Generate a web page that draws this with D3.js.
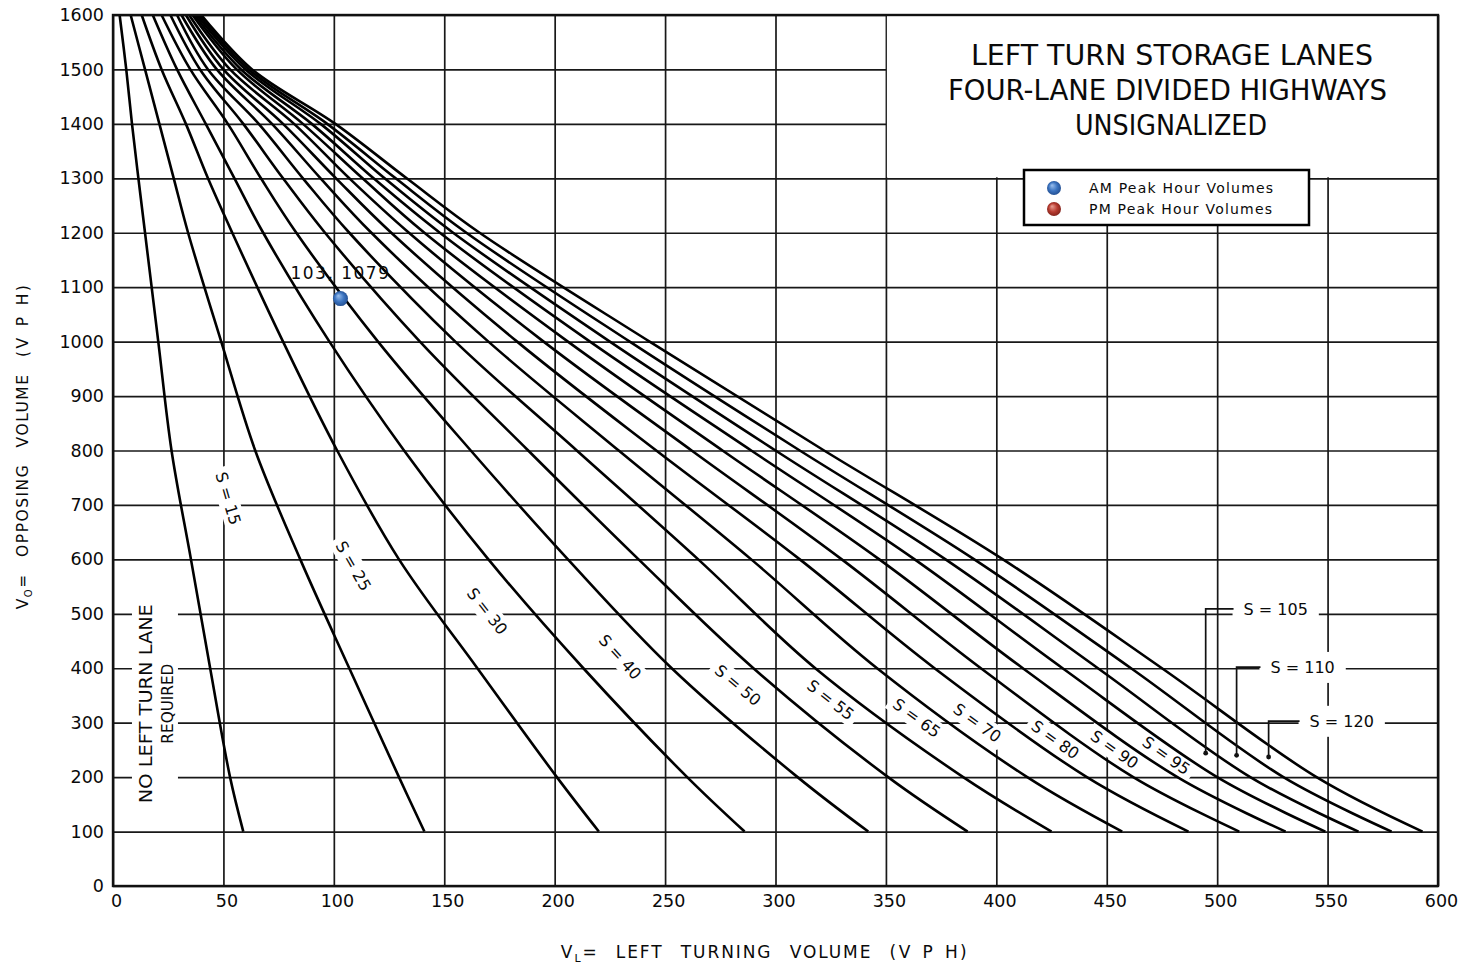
<!DOCTYPE html>
<html>
<head>
<meta charset="utf-8">
<title>Left turn storage lanes</title>
<script src="https://cdn.jsdelivr.net/npm/d3@7/dist/d3.min.js"></script>
<style>
  body { margin: 0; background: #fff; }
  svg text { font-family: "DejaVu Sans", sans-serif; fill: #0a0a0a; }
</style>
</head>
<body>
<svg id="chart" width="1465" height="969"></svg>
<script>
var levels = [1600, 1500, 1400, 1300, 1200, 1000, 800, 600, 400, 200, 100];

// left turning volume of each curve at those levels, left to right
var curve1  = [3, 6, 8.6, 11.5, 14.5, 20.5, 26.5, 35.3, 44, 53, 59];
var curve2  = [8, 14.5, 21, 27.5, 34, 49, 64.4, 84.8, 107, 129.5, 141];
var curve3  = [13, 22, 33, 43, 54, 77, 101.5, 129.5, 165, 201, 220];
var curve4  = [18, 29, 42, 55, 68, 98, 131.8, 170, 213, 260, 286];
var curve5  = [22, 35, 52, 67, 83, 120, 162, 206, 253, 310, 342];
var curve6  = [26, 39.4, 59, 77, 96, 139, 188, 238, 290, 351, 387];
var curve7  = [29, 43, 66, 86, 107, 155, 210, 265, 318, 385, 425];
var curve8  = [31, 47, 72, 94, 117, 170, 229, 289, 346, 414, 457];
var curve9  = [33, 50, 77, 101, 126, 183, 246, 311, 372, 441, 487];
var curve10 = [34.5, 53, 82, 107, 134, 195, 262, 330, 393, 462, 510];
var curve11 = [36, 56, 86, 113, 141, 206, 276, 347, 412, 482, 531];
var curve12 = [37, 58, 90, 118, 148, 216, 289, 363, 430, 500, 549];
var curve13 = [38, 60, 94, 123, 154, 225, 300, 377, 446, 515, 564];
var curve14 = [39, 61.5, 97, 128, 160, 234, 311, 390, 461, 530, 579];
var curve15 = [40, 63, 100.7, 133, 166, 243, 322, 403, 475, 545, 593];
var curves = [curve1, curve2, curve3, curve4, curve5, curve6, curve7, curve8,
              curve9, curve10, curve11, curve12, curve13, curve14, curve15];

// storage labels written in the bands between two curves
var bandLabels = ["S = 15", "S = 25", "S = 30", "S = 40", "S = 50", "S = 55",
                  "S = 65", "S = 70", "S = 80", "S = 90", "S = 95"];
var bandVL = [52.2, 108.9, 169.5, 229.7, 283, 325, 364, 391.4, 426.7, 453.6, 477];
var bandVO = [712, 588, 505, 421, 369, 342, 309, 300, 269, 251, 240];

// labels at the right, with leaders down to their band
var sideLabels = ["S = 105", "S = 110", "S = 120"];
var sideVL = [526.5, 538.7, 556.4];
var sideVO = [509, 402, 303];
var sideDotVL = [494.8, 508.8, 523.3];
var sideDotVO = [244, 240, 237];

var xTicks = [0, 50, 100, 150, 200, 250, 300, 350, 400, 450, 500, 550, 600];
var yTicks = [0, 100, 200, 300, 400, 500, 600, 700, 800, 900, 1000, 1100, 1200, 1300, 1400, 1500, 1600];

var amPoints = [[103, 1079]];
var pmPoints = [];

var svg = d3.select("#chart");
var W = 1465, H = 969;

var x = d3.scaleLinear().domain([0, 600]).range([113, 1438]);
var y = d3.scaleLinear().domain([0, 1600]).range([886, 15]);

svg.append("rect").attr("width", W).attr("height", H).attr("fill", "#fff");

// grid
var grid = svg.append("g");
grid.append("g")
    .attr("transform", "translate(0," + y(0) + ")")
    .call(d3.axisBottom(x).tickValues(xTicks).tickSize(-(y(0) - y(1600))).tickFormat(""));
grid.append("g")
    .attr("transform", "translate(" + x(0) + ",0)")
    .call(d3.axisLeft(y).tickValues(yTicks).tickSize(-(x(600) - x(0))).tickFormat(""));
grid.selectAll(".domain").remove();
grid.selectAll("line").attr("stroke", "#181818").attr("stroke-width", 1.7);

// the title corner has no grid
svg.append("rect")
    .attr("x", x(350) + 1).attr("y", y(1600) + 1)
    .attr("width", x(600) - x(350) - 2).attr("height", y(1300) - y(1600) - 2)
    .attr("fill", "#fff");

function points(c) {
    return c.map(function (v, k) { return [v, levels[k]]; });
}

function angleAt(c, v) {
    var p = points(c);
    for (var k = 0; k < p.length - 1; k++) {
        if (p[k][1] >= v && v >= p[k + 1][1]) {
            var dx = x(p[k + 1][0]) - x(p[k][0]);
            var dy = y(p[k + 1][1]) - y(p[k][1]);
            return Math.atan2(dy, dx) * 180 / Math.PI;
        }
    }
    return 0;
}

// band labels (white box breaks the grid)
var band = svg.append("g").selectAll("g").data(bandLabels).join("g")
    .attr("transform", function (d, i) {
        var a = (angleAt(curves[i], bandVO[i]) + angleAt(curves[i + 1], bandVO[i])) / 2;
        return "translate(" + x(bandVL[i]) + "," + y(bandVO[i]) + ") rotate(" + a + ")";
    });
band.append("text")
    .attr("text-anchor", "middle")
    .attr("dy", "0.36em")
    .attr("font-size", 16)
    .text(function (d) { return d; });
band.each(function () {
    var g = d3.select(this);
    var bb = g.select("text").node().getBBox();
    g.insert("rect", "text")
        .attr("x", bb.x - 5).attr("y", bb.y - 1)
        .attr("width", bb.width + 10).attr("height", bb.height + 2)
        .attr("fill", "#fff");
});

// side labels
var side = svg.append("g").selectAll("g").data(sideLabels).join("g")
    .attr("transform", function (d, i) { return "translate(" + x(sideVL[i]) + "," + y(sideVO[i]) + ")"; });
side.append("text")
    .attr("text-anchor", "middle")
    .attr("dy", "0.36em")
    .attr("font-size", 16)
    .text(function (d) { return d; });
side.each(function () {
    var g = d3.select(this);
    var bb = g.select("text").node().getBBox();
    g.insert("rect", "text")
        .attr("x", bb.x - 11).attr("y", bb.y - 6)
        .attr("width", bb.width + 22).attr("height", bb.height + 12)
        .attr("fill", "#fff");
});

// no lane note
var noteVL = 19, noteVO = 335;
var note = svg.append("g")
    .attr("transform", "translate(" + x(noteVL) + "," + y(noteVO) + ") rotate(-90)");
note.append("rect").attr("x", -106).attr("y", -23).attr("width", 212).attr("height", 46).attr("fill", "#fff");
note.append("text")
    .attr("x", -99.5).attr("y", -9).attr("dy", "0.36em")
    .attr("font-size", 17)
    .attr("textLength", 199).attr("lengthAdjust", "spacingAndGlyphs")
    .text("NO  LEFT  TURN  LANE");
note.append("text")
    .attr("x", -40).attr("y", 12).attr("dy", "0.36em")
    .attr("font-size", 16)
    .attr("textLength", 80).attr("lengthAdjust", "spacingAndGlyphs")
    .text("REQUIRED");

// curves
var line = d3.line()
    .x(function (d) { return x(d[0]); })
    .y(function (d) { return y(d[1]); })
    .curve(d3.curveCatmullRom.alpha(0.5));
svg.append("g").selectAll("path").data(curves).join("path")
    .attr("d", function (c) { return line(points(c)); })
    .attr("fill", "none")
    .attr("stroke", "#000")
    .attr("stroke-width", 2.6);

// leaders
svg.append("g").selectAll("path").data(sideLabels).join("path")
    .attr("d", function (d, i) {
        var bb = side.nodes()[i].querySelector("text").getBBox();
        var lx = x(sideVL[i]) + bb.x - 10;
        return "M" + lx + "," + y(sideVO[i]) + "H" + x(sideDotVL[i]) + "V" + y(sideDotVO[i]);
    })
    .attr("fill", "none").attr("stroke", "#111").attr("stroke-width", 1.7);
svg.append("g").selectAll("circle").data(sideLabels).join("circle")
    .attr("cx", function (d, i) { return x(sideDotVL[i]); })
    .attr("cy", function (d, i) { return y(sideDotVO[i]); })
    .attr("r", 2.4).attr("fill", "#111");

// frame
svg.append("rect")
    .attr("x", x(0)).attr("y", y(1600))
    .attr("width", x(600) - x(0)).attr("height", y(0) - y(1600))
    .attr("fill", "none").attr("stroke", "#111").attr("stroke-width", 2.4);

// tick labels
var yAxis = svg.append("g")
    .attr("transform", "translate(" + x(0) + ",0)")
    .call(d3.axisLeft(y).tickValues(yTicks).tickSize(0).tickPadding(9).tickFormat(d3.format("d")));
var xAxis = svg.append("g")
    .attr("transform", "translate(0," + y(0) + ")")
    .call(d3.axisBottom(x).tickValues(xTicks).tickSize(0).tickPadding(9).tickFormat(d3.format("d")));
[yAxis, xAxis].forEach(function (a) {
    a.select(".domain").remove();
    a.attr("font-family", "DejaVu Sans").attr("font-size", 17.5);
    a.selectAll("text").attr("fill", "#0a0a0a");
});
xAxis.selectAll("text").attr("dx", 3);

// axis titles
var xt = svg.append("text")
    .attr("x", 765).attr("y", 958)
    .attr("text-anchor", "middle")
    .attr("font-size", 17)
    .style("letter-spacing", "1.9px")
    .style("word-spacing", "10px");
xt.append("tspan").text("V");
xt.append("tspan").attr("dy", 4).attr("font-size", 11).text("L");
xt.append("tspan").attr("dy", -4).text("= LEFT TURNING VOLUME ");
xt.append("tspan").style("word-spacing", "2px").style("letter-spacing", "2.4px").text("(V P H)");

var yt = svg.append("text")
    .attr("transform", "translate(28,446) rotate(-90)")
    .attr("text-anchor", "middle")
    .attr("font-size", 15.5)
    .style("letter-spacing", "1.5px")
    .style("word-spacing", "10px");
yt.append("tspan").text("V");
yt.append("tspan").attr("dy", 4).attr("font-size", 10).text("O");
yt.append("tspan").attr("dy", -4).text("= OPPOSING VOLUME ");
yt.append("tspan").style("word-spacing", "2px").style("letter-spacing", "2.4px").text("(V P H)");

// title
var titleLines = ["LEFT TURN STORAGE LANES", "FOUR-LANE DIVIDED HIGHWAYS", "UNSIGNALIZED"];
var titleLeft = [971, 948, 1075];
var titleWidth = [402, 439, 192];
svg.append("g").selectAll("text").data(titleLines).join("text")
    .attr("x", function (d, i) { return titleLeft[i]; })
    .attr("y", function (d, i) { return 65 + i * 35; })
    .attr("font-size", 28)
    .attr("textLength", function (d, i) { return titleWidth[i]; })
    .attr("lengthAdjust", "spacingAndGlyphs")
    .text(function (d) { return d; });

// sphere gradients
var defs = svg.append("defs");
function sphere(id, hi, mid, lo) {
    var g = defs.append("radialGradient").attr("id", id)
        .attr("cx", "50%").attr("cy", "50%").attr("r", "55%")
        .attr("fx", "35%").attr("fy", "30%");
    g.append("stop").attr("offset", "0%").attr("stop-color", hi);
    g.append("stop").attr("offset", "55%").attr("stop-color", mid);
    g.append("stop").attr("offset", "100%").attr("stop-color", lo);
}
sphere("blueBall", "#9cc0ee", "#3c74c0", "#1f4a8c");
sphere("redBall", "#eaa196", "#b83c31", "#7c2019");

// legend
var legend = svg.append("g");
legend.append("rect")
    .attr("x", 1024).attr("y", 170).attr("width", 285).attr("height", 55)
    .attr("fill", "#fff").attr("stroke", "#000").attr("stroke-width", 2.5);
var legendNames = ["AM Peak Hour Volumes", "PM Peak Hour Volumes"];
var legendFill = ["url(#blueBall)", "url(#redBall)"];
legend.selectAll("circle").data(legendNames).join("circle")
    .attr("cx", 1054).attr("cy", function (d, i) { return 188 + i * 21; })
    .attr("r", 7).attr("fill", function (d, i) { return legendFill[i]; });
legend.selectAll("text").data(legendNames).join("text")
    .attr("x", 1089).attr("y", function (d, i) { return 193 + i * 21; })
    .attr("font-family", "Liberation Sans, Arial, sans-serif")
    .attr("font-size", 14)
    .style("letter-spacing", "1.2px")
    .text(function (d) { return d; });

// observed volumes
var pts = svg.append("g");
pts.selectAll("circle.am").data(amPoints).join("circle")
    .attr("class", "am")
    .attr("cx", function (d) { return x(d[0]); })
    .attr("cy", function (d) { return y(d[1]); })
    .attr("r", 7.5).attr("fill", "url(#blueBall)");
pts.selectAll("circle.pm").data(pmPoints).join("circle")
    .attr("class", "pm")
    .attr("cx", function (d) { return x(d[0]); })
    .attr("cy", function (d) { return y(d[1]); })
    .attr("r", 7.5).attr("fill", "url(#redBall)");
pts.selectAll("text").data(amPoints.concat(pmPoints)).join("text")
    .attr("x", function (d) { return x(d[0]); })
    .attr("y", function (d) { return y(d[1]) - 20; })
    .attr("text-anchor", "middle")
    .attr("font-family", "Liberation Sans, Arial, sans-serif")
    .attr("font-size", 17)
    .style("letter-spacing", "1.5px")
    .text(function (d) { return d[0] + ", " + d[1]; });
</script>
</body>
</html>
